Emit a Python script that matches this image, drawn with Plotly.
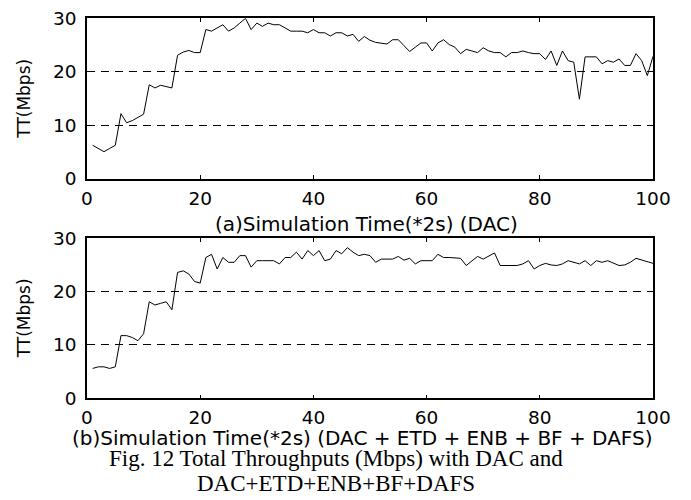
import plotly.graph_objects as go

# ---- data ----
time_steps = list(range(1, 101))

tt_dac = [
    6.3, 5.7, 5.1, 5.7, 6.3, 12.2, 10.5, 10.9, 11.5, 12.1,
    17.6, 17.0, 17.5, 17.3, 17.0, 23.1, 23.7, 24.0, 23.6, 23.6,
    27.9, 27.6, 28.2, 28.8, 27.6, 28.2, 29.1, 30.0, 27.9, 29.1,
    28.5, 29.1, 28.8, 28.8, 28.2, 27.6, 27.6, 27.6, 27.3, 27.9,
    27.3, 27.3, 26.7, 27.3, 27.3, 26.7, 27.0, 25.7, 26.6, 25.9,
    25.5, 25.4, 25.2, 26.0, 26.0, 24.9, 23.8, 24.6, 25.4, 25.4,
    23.9, 25.4, 26.0, 25.1, 24.6, 23.4, 24.2, 23.9, 23.6, 24.5,
    23.9, 23.6, 23.6, 22.8, 23.6, 23.6, 23.9, 23.6, 23.4, 23.4,
    22.3, 23.9, 21.2, 23.9, 22.1, 21.8, 14.9, 22.8, 22.8, 22.8,
    21.5, 22.1, 21.8, 22.4, 21.2, 21.2, 23.4, 22.1, 19.3, 22.9,
]

tt_all = [
    5.6, 5.9, 5.9, 5.6, 5.9, 11.75, 11.75, 11.4, 10.8, 12.1,
    18.1, 17.5, 17.8, 18.1, 16.6, 23.6, 23.9, 23.3, 21.9, 21.6,
    26.4, 27.0, 24.25, 26.4, 25.5, 25.5, 26.75, 26.75, 24.6, 25.8,
    25.8, 25.8, 25.8, 25.2, 26.4, 26.4, 27.4, 26.1, 27.7, 26.75,
    27.7, 25.8, 26.1, 27.7, 27.1, 28.25, 27.4, 26.75, 27.0, 26.75,
    25.5, 26.1, 26.1, 26.1, 26.6, 25.9, 26.25, 25.2, 25.8, 25.8,
    25.8, 27.0, 26.4, 26.4, 26.3, 26.25, 24.9, 25.75, 26.6, 26.1,
    26.7, 27.25, 24.9, 24.9, 24.9, 24.9, 25.2, 25.8, 24.25, 24.9,
    25.3, 25.0, 24.9, 25.2, 25.8, 25.5, 25.2, 25.8, 24.9, 25.8,
    25.5, 25.8, 25.3, 24.9, 25.0, 25.5, 26.25, 25.9, 25.6, 25.3,
]

x_ticks = [0, 20, 40, 60, 80, 100]
y_ticks = [0, 10, 20, 30]

title_a = "(a)Simulation Time(*2s) (DAC)"
title_b = "(b)Simulation Time(*2s) (DAC + ETD + ENB + BF + DAFS)"
y_title = "TT(Mbps)"
caption_1 = "Fig. 12 Total Throughputs (Mbps) with DAC and"
caption_2 = "DAC+ETD+ENB+BF+DAFS"

# ---- figure ----
W, H = 691, 500
SANS = "DejaVu Sans"
SERIF = "Liberation Serif"

def px_x(p):
    return p / W

def px_y(p):
    return 1 - p / H

fig = go.Figure()
fig.add_trace(go.Scatter(x=time_steps, y=tt_dac, mode="lines",
                         line=dict(color="black", width=1),
                         xaxis="x", yaxis="y", showlegend=False))
fig.add_trace(go.Scatter(x=time_steps, y=tt_all, mode="lines",
                         line=dict(color="black", width=1),
                         xaxis="x2", yaxis="y2", showlegend=False))

xdom = [px_x(87), px_x(653)]
common_x = dict(range=[0, 100], tickmode="array", tickvals=x_ticks,
                ticks="inside", ticklen=4, tickcolor="black", tickwidth=1,
                showline=True, linecolor="black", linewidth=1.5, mirror="ticks",
                showgrid=False, zeroline=False, automargin=False,
                tickfont=dict(family=SANS, size=18.5, color="black"),
                ticklabelstandoff=2)
common_y = dict(range=[0, 30], tickmode="array", tickvals=y_ticks,
                ticks="inside", ticklen=4, tickcolor="black", tickwidth=1,
                showline=True, linecolor="black", linewidth=1.5, mirror="ticks",
                showgrid=True, gridcolor="black", gridwidth=1, griddash="8px,6px",
                zeroline=False, automargin=False,
                tickfont=dict(family=SANS, size=18.5, color="black"),
                ticklabelstandoff=5)

fig.update_layout(
    width=W, height=H,
    margin=dict(l=0, r=0, t=0, b=0, autoexpand=False),
    paper_bgcolor="white", plot_bgcolor="white",
    xaxis=dict(domain=xdom, anchor="y", **common_x),
    yaxis=dict(domain=[px_y(179), px_y(18.3)], anchor="x", **common_y),
    xaxis2=dict(domain=xdom, anchor="y2", **common_x),
    yaxis2=dict(domain=[px_y(398.3), px_y(238.3)], anchor="x2", **common_y),
)

ann = []
ann.append(dict(text=title_a, x=px_x(367), y=px_y(224), xref="paper", yref="paper",
                xanchor="center", yanchor="middle", showarrow=False,
                font=dict(family=SANS, size=20, color="black")))
ann.append(dict(text=title_b, x=px_x(362), y=px_y(438), xref="paper", yref="paper",
                xanchor="center", yanchor="middle", showarrow=False,
                font=dict(family=SANS, size=20, color="black")))
for yc in (98.7, 318.3):
    ann.append(dict(text=y_title, x=px_x(24), y=px_y(yc), xref="paper", yref="paper",
                    xanchor="center", yanchor="middle", textangle=-90, showarrow=False,
                    font=dict(family=SANS, size=17, color="black")))
ann.append(dict(text=caption_1, x=px_x(336), y=px_y(458), xref="paper", yref="paper",
                xanchor="center", yanchor="middle", showarrow=False,
                font=dict(family=SERIF, size=23, color="black")))
ann.append(dict(text=caption_2, x=px_x(336), y=px_y(483), xref="paper", yref="paper",
                xanchor="center", yanchor="middle", showarrow=False,
                font=dict(family=SERIF, size=23, color="black")))
fig.update_layout(annotations=ann)

fig.write_html("out.html")
